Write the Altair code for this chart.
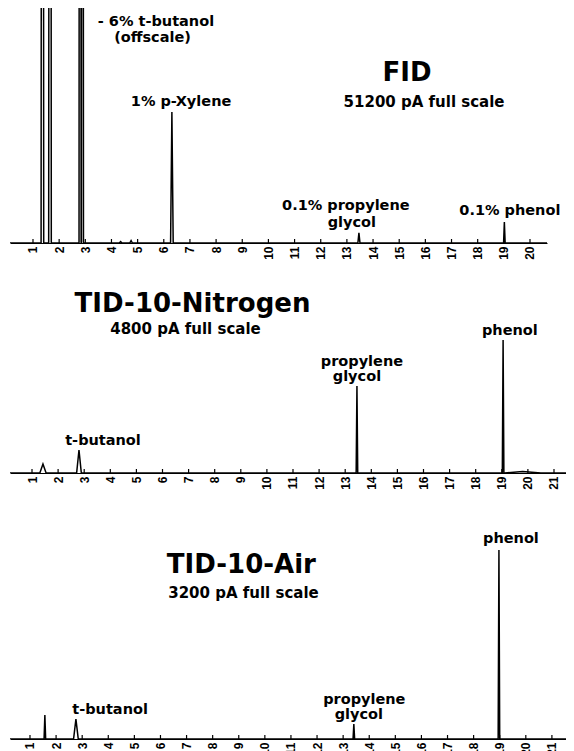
import altair as alt
import pandas as pd

# ---------------- data ----------------
# retention time (min), peak height (% of panel full height), half width (min)
fid_rt = [1.36, 1.65, 2.80, 2.89, 4.35, 4.75, 6.31, 13.46, 19.02]
fid_h = [1000, 1000, 1000, 1000, 0.6, 1.0, 55.7, 4.3, 8.9]
fid_w = [0.05, 0.05, 0.04, 0.04, 0.05, 0.05, 0.05, 0.04, 0.03]

n2_rt = [1.42, 2.80, 13.45, 19.05, 19.8]
n2_h = [4.9, 12.5, 47.3, 72.3, 0.8]
n2_w = [0.12, 0.09, 0.03, 0.03, 0.7]

air_rt = [1.57, 2.76, 13.41, 18.97]
air_h = [11.3, 9.4, 7.1, 89.2]
air_w = [0.03, 0.09, 0.03, 0.03]

fid_ticks = list(range(1, 21))
n2_ticks = list(range(1, 22))
air_ticks = list(range(1, 22))

fid_title = ["FID"]
fid_title_t = [15.3]
fid_title_s = [72.3]
fid_sub = ["51200 pA full scale"]
fid_sub_t = [15.95]
fid_sub_s = [60.0]
fid_lab = ["- 6% t-butanol", "(offscale)", "1% p-Xylene", "0.1% propylene", "glycol", "0.1% phenol"]
fid_lab_t = [5.70, 5.57, 6.66, 12.96, 13.19, 19.23]
fid_lab_s = [94.0, 87.2, 60.0, 15.6, 8.6, 13.6]

n2_title = ["TID-10-Nitrogen"]
n2_title_t = [7.15]
n2_title_s = [91.8]
n2_sub = ["4800 pA full scale"]
n2_sub_t = [6.88]
n2_sub_s = [78.3]
n2_lab = ["t-butanol", "propylene", "glycol", "phenol"]
n2_lab_t = [3.72, 13.64, 13.45, 19.31]
n2_lab_s = [17.4, 60.3, 52.3, 77.2]

air_title = ["TID-10-Air"]
air_title_t = [9.10]
air_title_s = [82.1]
air_sub = ["3200 pA full scale"]
air_sub_t = [9.18]
air_sub_s = [68.9]
air_lab = ["t-butanol", "propylene", "glycol", "phenol"]
air_lab_t = [4.07, 13.81, 13.60, 19.43]
air_lab_s = [13.7, 18.3, 11.4, 94.3]

FONT = "DejaVu Sans"


def panel(rt, h, w, dom, width, height, ticks, titles, subs, labs):
    pts = [(dom[0], 0.0)]
    for r, hh, ww in sorted(zip(rt, h, w)):
        pts += [(r - ww, 0.0), (r, hh), (r + ww, 0.0)]
    pts.append((dom[1], 0.0))
    df = pd.DataFrame(pts, columns=["t", "s"])
    df["o"] = range(len(df))

    x = alt.X(
        "t:Q",
        scale=alt.Scale(domain=dom, nice=False, zero=False),
        axis=alt.Axis(
            values=ticks, labelAngle=270, labelFont="Liberation Sans",
            labelFontSize=12, labelFontWeight="bold", labelColor="black",
            ticks=False, labelPadding=3, domainColor="black", domainWidth=1.2,
            grid=False, title=None, format="d", labelFlush=False,
            labelOverlap=False, labelBound=False,
        ),
    )
    y = alt.Y("s:Q", scale=alt.Scale(domain=[0, 100], nice=False), axis=None)

    line = alt.Chart(df).mark_line(
        color="black", strokeWidth=1.5, clip=True
    ).encode(x=x, y=y, order="o:Q")

    tick_len = 4.0 / height * 100
    tdf = pd.DataFrame({"t": ticks, "s": [0.0] * len(ticks), "s2": [tick_len] * len(ticks)})
    tk = alt.Chart(tdf).mark_rule(color="black", strokeWidth=1.2).encode(
        x=x, y=y, y2="s2:Q"
    )

    layers = [line, tk]
    for (txt, tt, ss), size in zip([titles, subs, labs], [26, 15, 14.5]):
        d = pd.DataFrame({"t": tt, "s": ss, "label": txt})
        layers.append(
            alt.Chart(d).mark_text(
                font=FONT, fontWeight="bold", fontSize=size, color="black",
                align="center", baseline="middle",
            ).encode(x=x, y=y, text="label:N")
        )
    return alt.layer(*layers).properties(width=width, height=height)


p1 = panel(fid_rt, fid_h, fid_w, [0.121, 20.65], 537, 235, fid_ticks,
           (fid_title, fid_title_t, fid_title_s), (fid_sub, fid_sub_t, fid_sub_s),
           (fid_lab, fid_lab_t, fid_lab_s))
p2 = panel(n2_rt, n2_h, n2_w, [0.157, 21.46], 556, 184, n2_ticks,
           (n2_title, n2_title_t, n2_title_s), (n2_sub, n2_sub_t, n2_sub_s),
           (n2_lab, n2_lab_t, n2_lab_s))
p3 = panel(air_rt, air_h, air_w, [0.234, 21.54], 556, 212, air_ticks,
           (air_title, air_title_t, air_title_s), (air_sub, air_sub_t, air_sub_s),
           (air_lab, air_lab_t, air_lab_s))

chart = alt.vconcat(alt.vconcat(p1, p2, spacing=29), p3, spacing=37).properties(
    padding={"left": 2, "top": 0, "right": 0, "bottom": 0}
).configure(background="white").configure_view(strokeWidth=0, stroke="transparent")

chart.save("out.html", embed_options={"renderer": "svg", "actions": False})
